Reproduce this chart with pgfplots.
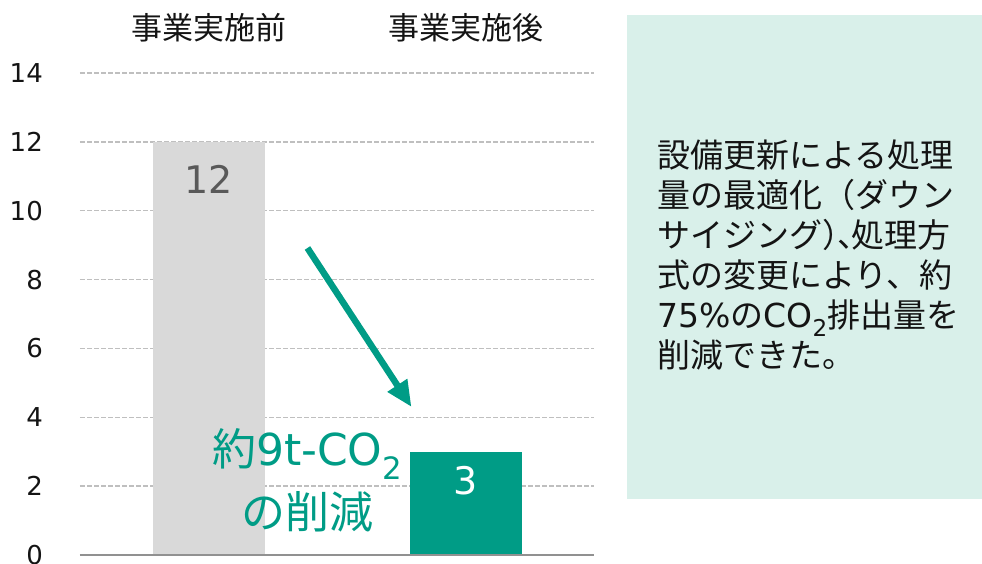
\documentclass[border=0pt]{standalone}
\usepackage{pgfplots}
\pgfplotsset{compat=1.18}
\usepackage{fontspec}
\setmainfont{DejaVu Sans}
\newfontfamily\jp{Noto Sans CJK JP}
\usetikzlibrary{arrows.meta}

\definecolor{ecoteal}{RGB}{0,156,134}
\definecolor{barbase}{RGB}{217,217,217}
\definecolor{mint}{RGB}{217,240,234}
\definecolor{gridgray}{RGB}{191,191,191}
\definecolor{basegray}{RGB}{145,145,145}
\definecolor{labelgray}{RGB}{89,89,89}
\definecolor{inktext}{RGB}{20,20,20}

\begin{document}
\begin{tikzpicture}
\useasboundingbox (-80pt,-8pt) rectangle (902pt,555pt);
\begin{axis}[
  at={(0,0)}, anchor=south west,
  x=257pt, y=34.43pt,
  xmin=-0.5, xmax=1.5, ymin=0, ymax=14,
  axis line style={draw=none},
  major tick length=0pt,
  ytick={0,2,...,14},
  ymajorgrids,
  major grid style={gridgray, line width=1.5pt, dash pattern=on 4.5pt off 2.5pt},
  xtick={0,1},
  xticklabels={事業実施前,事業実施後},
  xticklabel pos=upper,
  xticklabel style={font=\jp\fontsize{31}{31}\selectfont, text=inktext,
    anchor=base, inner sep=0pt, yshift=33pt},
  yticklabel style={font=\fontsize{26}{26}\selectfont, text=inktext,
    anchor=east, inner sep=0pt, xshift=-37pt},
  /pgf/number format/assume math mode=true,
  clip=false,
  ybar, bar width=112pt, bar shift=0pt,
]
% before: 12 t-CO2
\addplot[fill=barbase, draw=none, bar shift=0pt, nodes near coords,
  every node near coord/.append style={font=\fontsize{38}{38}\selectfont,
    text=labelgray, anchor=north, inner sep=0pt, yshift=-23pt}]
  coordinates {(0,12)};
% after: 3 t-CO2
\addplot[fill=ecoteal, draw=none, bar shift=0pt, nodes near coords,
  every node near coord/.append style={font=\fontsize{38}{38}\selectfont,
    text=white, anchor=north, inner sep=0pt, yshift=-14pt}]
  coordinates {(1,3)};
% baseline
\draw[basegray, line width=2.8pt] (axis cs:-0.5,0) -- (axis cs:1.5,0);
% reduction arrow and its caption
\draw[ecoteal, line width=6.5pt, -{Triangle[length=26pt,width=22pt]}]
  (axis cs:0.385,8.917) -- (axis cs:0.790,4.298);
\node[text=ecoteal, anchor=base, inner sep=0pt, font=\fontsize{44}{44}\selectfont]
  at (axis cs:0.385,2.614) {{\jp 約}9t-CO\textsubscript{2}};
\node[text=ecoteal, anchor=base, inner sep=0pt, font=\jp\fontsize{44}{44}\selectfont]
  at (axis cs:0.385,0.78) {の削減};
\end{axis}
% explanation panel
\fill[mint] (547pt,56pt) rectangle (902pt,540pt);
\begin{scope}[every node/.style={anchor=base west, inner sep=0pt, text=inktext,
    font=\jp\fontsize{33}{33}\selectfont}]
\node at (577pt,387.5pt) {設備更新による処理};
\node at (577pt,347.5pt) {量の最適化（ダウン};
\node at (577pt,307.5pt) {サイジング）\kern-0.55em、\kern-0.55em処理方};
\node at (577pt,267.5pt) {式の変更により、約};
\node at (577pt,227.5pt) {{\rmfamily 75\%}の{\rmfamily CO\textsubscript{2}}排出量を};
\node at (577pt,187.5pt) {削減できた。};
\end{scope}
\end{tikzpicture}
\end{document}
